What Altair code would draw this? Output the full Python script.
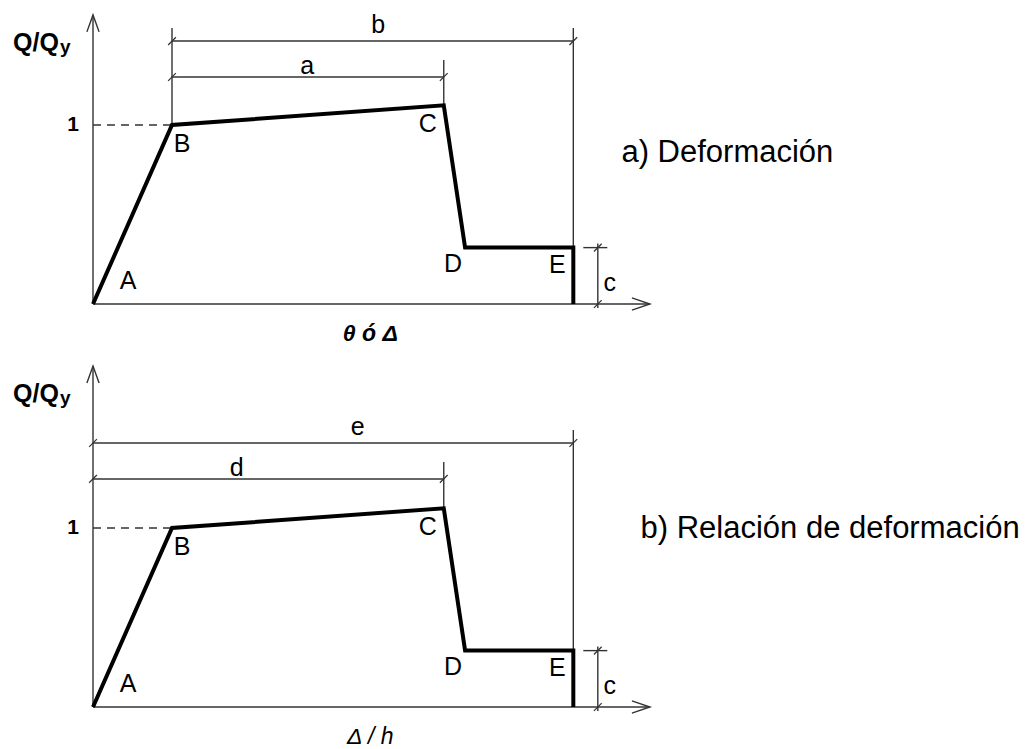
import altair as alt
import pandas as pd

# ---- Generalised force-deformation relation (same shape in both panels) ----
POINTS = ["A", "B", "C", "D", "E"]
DEFORMATION = [0.0, 1.0, 4.44, 4.71, 6.08]
FORCE = [0.0, 1.0, 1.11, 0.315, 0.315]

# ---- Per-panel annotations ----
X_TITLES = ["θ ó Δ", "Δ / h"]
CAPTIONS = ["a) Deformación", "b) Relación de deformación"]
OUTER_DIM_NAMES = ["b", "e"]
INNER_DIM_NAMES = ["a", "d"]
OUTER_DIM_LEVEL = [1.469, 1.475]
INNER_DIM_LEVEL = [1.268, 1.274]
DIM_START = [1.0, 0.0]          # dimensions start at B (panel a) or at the Q axis (panel b)
OUTER_LABEL_X = [3.61, 3.35]
INNER_LABEL_X = [2.71, 1.82]
Y_AXIS_TOP = [1.615, 1.905]
X_AXIS_END = 7.05
C_DIM_X = 6.39
CAPTION_X = [8.03, 9.33]
CAPTION_Y = [0.844, 0.994]

# ---- Layout (pixels) ----
W = 1034
PANEL_H = [362, 387]
ORIGIN_X = 93
ORIGIN_Y = [304, 345]
PX_X = 79.0
PX_Y = 179.0

FONT = "Liberation Sans"
THIN = "#333333"

# label offsets from the curve points, in pixels
LABEL_DX = [35, 10, -16, -12, -16]
LABEL_DY = [-23, 19, 19, 16, 17]


def panel(i):
    xs = alt.Scale(domain=[-ORIGIN_X / PX_X, (W - ORIGIN_X) / PX_X], nice=False, zero=False)
    ys = alt.Scale(domain=[-(PANEL_H[i] - ORIGIN_Y[i]) / PX_Y, ORIGIN_Y[i] / PX_Y],
                   nice=False, zero=False)
    X = lambda f="x": alt.X(f"{f}:Q", scale=xs, axis=None)
    Y = lambda f="y": alt.Y(f"{f}:Q", scale=ys, axis=None)

    xB, xC, xE = DEFORMATION[1], DEFORMATION[2], DEFORMATION[4]
    yB, yC, yD = FORCE[1], FORCE[2], FORCE[3]
    outer, inner = OUTER_DIM_LEVEL[i], INNER_DIM_LEVEL[i]
    start = DIM_START[i]
    over_outer = 13 / PX_Y
    over_inner = 17 / PX_Y

    # thick backbone curve
    curve = pd.DataFrame({
        "x": DEFORMATION + [xE],
        "y": FORCE + [0.0],
        "o": list(range(len(DEFORMATION) + 1)),
    })
    curve_layer = alt.Chart(curve).mark_line(
        color="black", strokeWidth=4, strokeJoin="miter"
    ).encode(x=X(), y=Y(), order="o:Q")

    # thin lines: axes, dimension lines, extension lines
    segs = [
        (0.0, 0.0, 0.0, Y_AXIS_TOP[i]),
        (0.0, 0.0, X_AXIS_END, 0.0),
        (start, outer, xE, outer),
        (start, inner, xC, inner),
        (xC, yC, xC, inner + over_inner),
        (xE, 0.0, xE, outer + over_outer),
        (C_DIM_X, -4 / PX_Y, C_DIM_X, yD + 4 / PX_Y),
        (xE + 10 / PX_X, yD, xE + 34 / PX_X, yD),
    ]
    if start > 0:
        segs.append((xB, yB, xB, outer + over_outer))
    seg = pd.DataFrame(segs, columns=["x", "y", "x2", "y2"])
    seg_layer = alt.Chart(seg).mark_rule(color=THIN, strokeWidth=1.4).encode(
        x=X(), y=Y(), x2="x2:Q", y2="y2:Q"
    )

    dash = pd.DataFrame({"x": [0.0], "y": [yB], "x2": [xB], "y2": [yB]})
    dash_layer = alt.Chart(dash).mark_rule(
        color=THIN, strokeWidth=1.4, strokeDash=[8, 6]
    ).encode(x=X(), y=Y(), x2="x2:Q", y2="y2:Q")

    # architectural slash ticks at dimension ends
    ticks = pd.DataFrame({
        "x": [start, xE, start, xC, C_DIM_X, C_DIM_X],
        "y": [outer, outer, inner, inner, 0.0, yD],
    })
    tick_layer = alt.Chart(ticks).mark_point(
        shape="M -1 1 L 1 -1", size=60, filled=False, color=THIN, strokeWidth=1.3, opacity=1
    ).encode(x=X(), y=Y())

    # open arrow heads
    up = alt.Chart(pd.DataFrame({"x": [0.0], "y": [Y_AXIS_TOP[i]]})).mark_point(
        shape="M -0.36 1 L 0 0 L 0.36 1", size=1150, filled=False,
        color=THIN, strokeWidth=1.4, opacity=1
    ).encode(x=X(), y=Y())
    right = alt.Chart(pd.DataFrame({"x": [X_AXIS_END], "y": [0.0]})).mark_point(
        shape="M -1 -0.34 L 0 0 L -1 0.34", size=1300, filled=False,
        color=THIN, strokeWidth=1.4, opacity=1
    ).encode(x=X(), y=Y())

    # point labels A..E
    lab = pd.DataFrame({
        "t": POINTS,
        "x": [d + dx / PX_X for d, dx in zip(DEFORMATION, LABEL_DX)],
        "y": [f - dy / PX_Y for f, dy in zip(FORCE, LABEL_DY)],
    })
    lab_layer = alt.Chart(lab).mark_text(
        font=FONT, fontSize=25, color="black", align="center", baseline="middle"
    ).encode(x=X(), y=Y(), text="t:N")

    # dimension labels
    dims = pd.DataFrame({
        "t": [OUTER_DIM_NAMES[i], INNER_DIM_NAMES[i], "c"],
        "x": [OUTER_LABEL_X[i], INNER_LABEL_X[i], C_DIM_X + 12 / PX_X],
        "y": [outer + 8 / PX_Y, inner + 3 / PX_Y, yD / 2 - 7 / PX_Y],
    })
    dim_layers = [
        alt.Chart(dims.iloc[:2]).mark_text(
            font=FONT, fontSize=25, color="black", align="center", baseline="alphabetic"
        ).encode(x=X(), y=Y(), text="t:N"),
        alt.Chart(dims.iloc[2:]).mark_text(
            font=FONT, fontSize=25, color="black", align="center", baseline="middle"
        ).encode(x=X(), y=Y(), text="t:N"),
    ]

    # axis annotations
    one = alt.Chart(pd.DataFrame({"x": [-20 / PX_X], "y": [yB], "t": ["1"]})).mark_text(
        font=FONT, fontSize=21, fontWeight="bold", color="black", align="center", baseline="middle"
    ).encode(x=X(), y=Y(), text="t:N")
    qtop = Y_AXIS_TOP[i] - 28 / PX_Y
    qq = alt.Chart(pd.DataFrame({"x": [-80 / PX_X], "y": [qtop], "t": ["Q/Q"]})).mark_text(
        font=FONT, fontSize=25, fontWeight="bold", color="black", align="left", baseline="middle"
    ).encode(x=X(), y=Y(), text="t:N")
    qy = alt.Chart(pd.DataFrame({"x": [-33 / PX_X], "y": [qtop - 4 / PX_Y], "t": ["y"]})).mark_text(
        font=FONT, fontSize=19, fontWeight="bold", color="black", align="left", baseline="middle"
    ).encode(x=X(), y=Y(), text="t:N")
    xt = alt.Chart(pd.DataFrame({"x": [3.51], "y": [-30 / PX_Y], "t": [X_TITLES[i]]})).mark_text(
        font=FONT, fontSize=23, fontStyle="italic", fontWeight="bold" if i == 0 else "normal",
        color="black", align="center", baseline="middle"
    ).encode(x=X(), y=Y(), text="t:N")
    cap = alt.Chart(pd.DataFrame({"x": [CAPTION_X[i]], "y": [CAPTION_Y[i]], "t": [CAPTIONS[i]]})).mark_text(
        font=FONT, fontSize=31, color="black", align="center", baseline="middle"
    ).encode(x=X(), y=Y(), text="t:N")

    return alt.layer(
        seg_layer, dash_layer, tick_layer, up, right, curve_layer,
        lab_layer, *dim_layers, one, qq, qy, xt, cap
    ).properties(width=W, height=PANEL_H[i])


chart = alt.vconcat(panel(0), panel(1), spacing=0).configure(
    padding=0, background="white"
).configure_view(stroke=None)

chart.save("out.html", embed_options={"renderer": "svg", "actions": False})
